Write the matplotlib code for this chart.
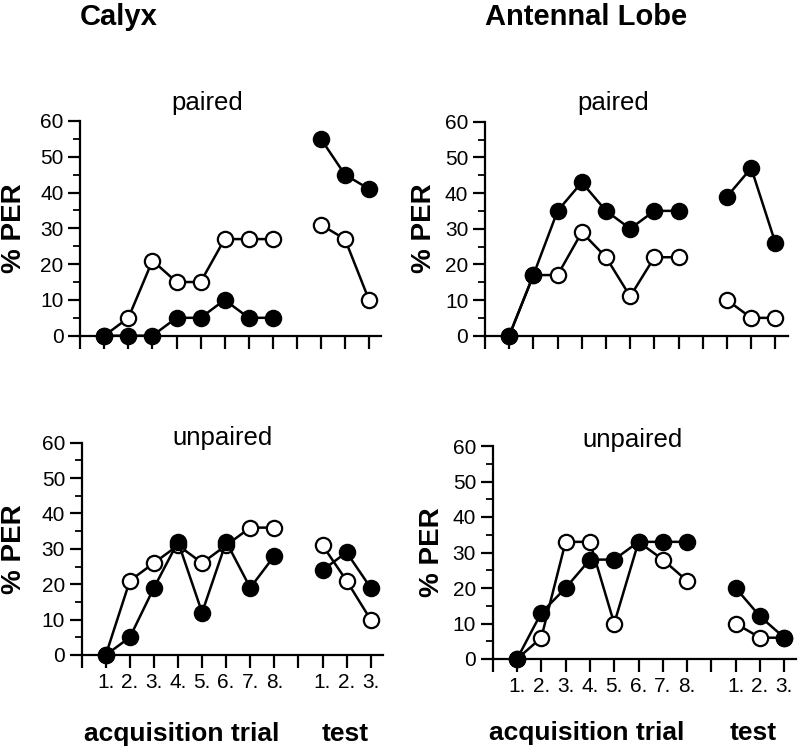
import numpy as np
import matplotlib
matplotlib.use("Agg")
from matplotlib import pyplot as plt
from matplotlib.ticker import MultipleLocator

plt.rcParams.update({
    "font.family": ["Liberation Sans", "DejaVu Sans"],
    "font.size": 15,
})

# x positions: trials 1-8, gap, test 1-3
trial_x = [1, 2, 3, 4, 5, 6, 7, 8]
test_x = [10, 11, 12]
trial_labels = ["1.", "2.", "3.", "4.", "5.", "6.", "7.", "8."]
test_labels = ["1.", "2.", "3."]

# Calyx, paired
calyx_paired_open_trial = [0, 5, 21, 15, 15, 27, 27, 27]
calyx_paired_open_test = [31, 27, 10]
calyx_paired_filled_trial = [0, 0, 0, 5, 5, 10, 5, 5]
calyx_paired_filled_test = [55, 45, 41]

# Antennal lobe, paired
al_paired_open_trial = [0, 17, 17, 29, 22, 11, 22, 22]
al_paired_open_test = [10, 5, 5]
al_paired_filled_trial = [0, 17, 35, 43, 35, 30, 35, 35]
al_paired_filled_test = [39, 47, 26]

# Calyx, unpaired
calyx_unpaired_open_trial = [0, 21, 26, 31, 26, 31, 36, 36]
calyx_unpaired_open_test = [31, 21, 10]
calyx_unpaired_filled_trial = [0, 5, 19, 32, 12, 32, 19, 28]
calyx_unpaired_filled_test = [24, 29, 19]

# Antennal lobe, unpaired
al_unpaired_open_trial = [0, 6, 33, 33, 10, 33, 28, 22]
al_unpaired_open_test = [10, 6, 6]
al_unpaired_filled_trial = [0, 13, 20, 28, 28, 33, 33, 33]
al_unpaired_filled_test = [20, 12, 6]

W, H = 800, 750
fig = plt.figure(figsize=(8, 7.5), dpi=100)


def px_axes(x0, y_top, y_bottom, unit):
    # axes rectangle from pixel measurements
    return fig.add_axes([x0 / W, 1 - y_bottom / H, 12.5 * unit / W, (y_bottom - y_top) / H])


def draw_panel(ax, open_tr, open_te, fill_tr, fill_te, show_labels):
    style = dict(color="black", lw=1.8, ms=11, mew=1.6, clip_on=False)
    for xs, ys in [(trial_x, open_tr), (test_x, open_te)]:
        ax.plot(xs, ys, "-o", mfc="white", mec="black", zorder=3, **style)
    for xs, ys in [(trial_x, fill_tr), (test_x, fill_te)]:
        ax.plot(xs, ys, "-o", mfc="black", mec="black", zorder=4, **style)

    ax.set_xlim(0, 12.5)
    ax.set_ylim(0, 60)
    for s in ["top", "right"]:
        ax.spines[s].set_visible(False)
    for s in ["left", "bottom"]:
        ax.spines[s].set_linewidth(1.6)
    ax.yaxis.set_major_locator(MultipleLocator(10))
    ax.yaxis.set_minor_locator(MultipleLocator(5))
    ax.set_xticks(range(0, 13))
    if show_labels:
        ax.set_xticklabels([""] + trial_labels + [""] + test_labels)
    else:
        ax.set_xticklabels([])
    ax.tick_params(axis="both", which="major", direction="out", length=9, width=1.6,
                   labelsize=15)
    ax.tick_params(axis="y", which="major", pad=3)
    ax.tick_params(axis="x", which="major", pad=4)
    ax.tick_params(axis="y", which="minor", direction="out", length=5, width=1.3)
    ax.set_facecolor("none")


ax1 = px_axes(80.3, 121, 335.7, 24.06)
draw_panel(ax1, calyx_paired_open_trial, calyx_paired_open_test,
           calyx_paired_filled_trial, calyx_paired_filled_test, False)
ax2 = px_axes(485, 121.7, 335.7, 24.2)
draw_panel(ax2, al_paired_open_trial, al_paired_open_test,
           al_paired_filled_trial, al_paired_filled_test, False)
ax3 = px_axes(81.7, 442.7, 655, 24.08)
draw_panel(ax3, calyx_unpaired_open_trial, calyx_unpaired_open_test,
           calyx_unpaired_filled_trial, calyx_unpaired_filled_test, True)
ax4 = px_axes(492.7, 446, 659, 24.3)
draw_panel(ax4, al_unpaired_open_trial, al_unpaired_open_test,
           al_unpaired_filled_trial, al_unpaired_filled_test, True)


def ftext(x, y, s, **kw):
    fig.text(x / W, 1 - y / H, s, **kw)


# column titles
ftext(80, 17, "Calyx", fontsize=21, fontweight="bold", ha="left", va="center")
ftext(485, 17, "Antennal Lobe", fontsize=21, fontweight="bold", ha="left", va="center")

# panel subtitles
ftext(207, 103, "paired", fontsize=18.5, ha="center", va="center")
ftext(613, 103, "paired", fontsize=18.5, ha="center", va="center")
ftext(223, 438, "unpaired", fontsize=18.5, ha="center", va="center")
ftext(632, 440, "unpaired", fontsize=18.5, ha="center", va="center")

# y labels
for x, y in [(14, 228), (424, 228), (14, 549), (432, 552)]:
    ftext(x, y, "% PER", fontsize=20, fontweight="bold", rotation=90,
          ha="center", va="center")

# x group labels
ftext(182, 741, "acquisition trial", fontsize=19, fontweight="bold", ha="center", va="baseline")
ftext(345, 741, "test", fontsize=19, fontweight="bold", ha="center", va="baseline")
ftext(587, 740, "acquisition trial", fontsize=19, fontweight="bold", ha="center", va="baseline")
ftext(753, 740, "test", fontsize=19, fontweight="bold", ha="center", va="baseline")

fig.savefig("out.png", dpi=100, facecolor="white")
